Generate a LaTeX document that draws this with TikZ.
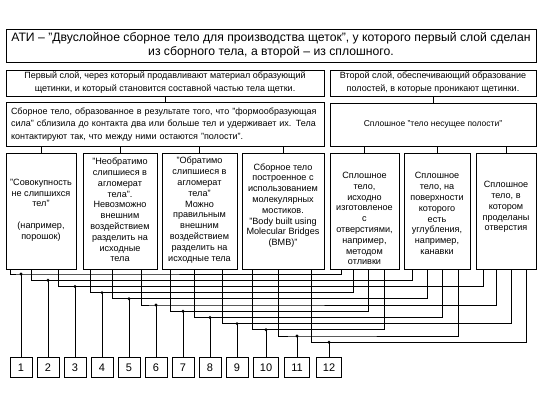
\documentclass[tikz,border=0pt]{standalone}
\usepackage{fontspec}
\setmainfont{Liberation Sans}
\begin{document}
\begin{tikzpicture}[x=1pt,y=-1pt,
  box/.style={draw, line width=0.8pt, inner sep=0pt, align=center},
  topfont/.style={font=\fontsize{12.2}{14}\selectfont},
  midfont/.style={font=\fontsize{9}{13}\selectfont},
  lowfont/.style={font=\fontsize{9}{12.5}\selectfont},
  colfont/.style={font=\fontsize{9.1}{10.8}\selectfont},
  coltext/.style={colfont, align=center, inner sep=0pt},
  numbox/.style={draw, line width=0.8pt, inner sep=0pt, minimum height=20pt, font=\fontsize{11}{13}\selectfont},
  wire/.style={line width=0.8pt},
  dot/.style={fill=black}]
\useasboundingbox[fill=white] (0,0) rectangle (552,405);

% top
\node[box, topfont, minimum width=530pt, minimum height=33pt] (top) at (271,45.5)
  {АТИ – "Двуслойное сборное тело для производства щеток", у которого первый слой сделан\\из сборного тела, а второй – из сплошного.};

% row 2
\node[box, midfont, minimum width=318pt, minimum height=26pt] (l2) at (165,83)
  {Первый слой, через который продавливают материал образующий\\щетинки, и который становится составной частью тела щетки.};
\node[box, midfont, minimum width=206pt, minimum height=26pt] (r2) at (433,83)
  {Второй слой, обеспечивающий образование\\полостей, в которые проникают щетинки.};

% row 3
\node[box, lowfont, minimum width=318pt, minimum height=43pt, text width=308pt, inner sep=5pt, align=left] (l3) at (165,124.5)
  {Сборное тело, образованное в результате того, что "формообразующая\\сила" сблизила до контакта два или больше тел и удерживает их. Тела\\контактируют так, что между ними остаются "полости".};
\node[box, font=\fontsize{8.5}{12}\selectfont, minimum width=206pt, minimum height=43pt] (r3) at (433,124.5)
  {Сплошное "тело несущее полости"};

\draw[wire] (l2.south) -- (l3.north);
\draw[wire] (r2.south) -- (r3.north);

% row 4 boxes
\node[box, minimum width=70pt, minimum height=116pt] (b1) at (41,211) {};
\node[box, minimum width=74pt, minimum height=116pt] (b2) at (120,211) {};
\node[box, minimum width=75pt, minimum height=116pt] (b3) at (199.5,211) {};
\node[box, minimum width=82pt, minimum height=116pt] (b4) at (283,211) {};
\node[box, minimum width=69pt, minimum height=116pt] (b5) at (364.5,211) {};
\node[box, minimum width=66pt, minimum height=116pt] (b6) at (437,211) {};
\node[box, minimum width=60pt, minimum height=116pt] (b7) at (506,211) {};

% row 4 texts
\node[coltext] (t1) at (41,210)
  {"Совокупность\\не слипшихся\\тел"\\[10.8pt](например,\\порошок)};
\node[coltext] (t2) at (120,210)
  {"Необратимо\\слипшиеся в\\агломерат\\тела".\\Невозможно\\внешним\\воздействием\\разделить на\\исходные\\тела};
\node[coltext] (t3) at (199.5,210)
  {"Обратимо\\слипшиеся в\\агломерат\\тела"\\Можно\\правильным\\внешним\\воздействием\\разделить на\\исходные тела};
\node[coltext] (t4) at (283,205.5)
  {Сборное тело\\построенное с\\использованием\\молекулярных\\мостиков.\\"Body built using\\Molecular Bridges\\(BMB)"};
\node[coltext] (t5) at (364.5,218.5)
  {Сплошное\\тело,\\исходно\\изготовленое\\с\\отверстиями,\\например,\\методом\\отливки};
\node[coltext] (t6) at (437,213.5)
  {Сплошное\\тело, на\\поверхности\\которого\\есть\\углубления,\\например,\\канавки};
\node[coltext] (t7) at (506,207)
  {Сплошное\\тело, в\\котором\\проделаны\\отверстия};

\foreach \b in {b1,b2,b3,b4}{\draw[wire] (l3.south -| \b.north) -- (\b.north);}
\foreach \b in {b5,b6,b7}{\draw[wire] (r3.south -| \b.north) -- (\b.north);}

% number boxes
\foreach \k/\x/\w in {1/21/22,2/48/22,3/75/22,4/102/22,5/129/22,6/156/22,7/183/22,8/210/22,9/237/22,10/266/25,11/297/25,12/329/25}{
  \node[numbox, minimum width=\w pt] (n\k) at (\x,367.5) {\k};
}

% junctions
\foreach \k/\y in {1/274,2/280.2,3/286.4,4/292.6,5/298.8,6/305,7/311.2,8/317.4,9/323.6,10/329.8,11/336,12/342.2}{
  \coordinate (j\k) at (n\k.north |- 0,\y);
}

% wires: left box, left offset, right box, right offset
\foreach \k/\lb/\lo/\rb/\ro in {
  1/b1/5/b5/12, 2/b1/26/b6/9, 3/b1/53/b7/8,
  4/b2/8/b5/24, 5/b2/30/b6/24, 6/b2/59/b7/21,
  7/b3/9/b5/39, 8/b3/33/b6/39, 9/b3/61/b7/36,
  10/b4/11/b5/55, 11/b4/37/b6/55, 12/b4/70/b7/51}{
  \draw[wire] ([xshift=\lo pt]\lb.south west) |- (j\k) -| ([xshift=\ro pt]\rb.south west);
  \draw[wire] (n\k.north) -- (j\k);
  \fill[dot] (j\k) circle (1.6pt);
}
\end{tikzpicture}
\end{document}
